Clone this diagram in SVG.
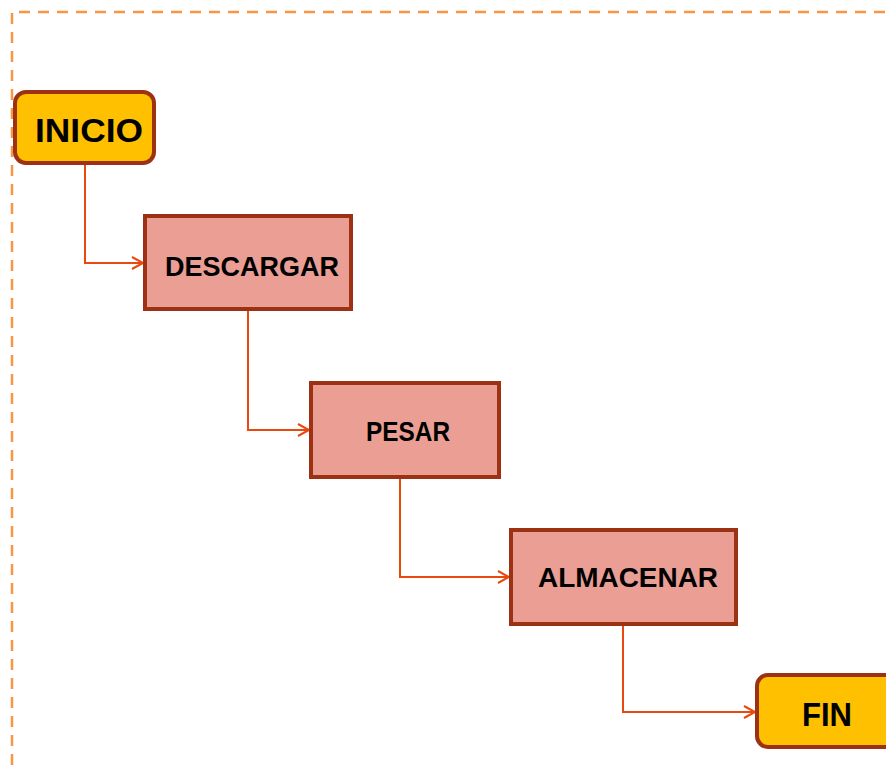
<svg xmlns="http://www.w3.org/2000/svg" width="886" height="765" viewBox="0 0 886 765">
<defs>
<style>
.frame{fill:none;stroke:#F79646;stroke-width:2.5;stroke-dasharray:11 8}
.term{fill:#FFC000;stroke:#9C3213;stroke-width:4}
.proc{fill:#EA9E94;stroke:#9C3213;stroke-width:4}
.conn{fill:none;stroke:#E8490F;stroke-width:2;marker-end:url(#arr)}
.lbl{font-family:"Liberation Sans",Arial,sans-serif;font-weight:bold;fill:#000;text-anchor:middle}
</style>
<marker id="arr" markerWidth="16" markerHeight="16" refX="12" refY="8" orient="auto" markerUnits="userSpaceOnUse">
<path d="M1,2 L12,8 L1,14" fill="none" stroke="#E8490F" stroke-width="2"/>
</marker>
</defs>
<rect width="886" height="765" fill="#fff"/>
<path class="frame" d="M12,765 L12,12 L886,12"/>
<g id="connectors">
<path class="conn" d="M85,164 L85,263 L143,263"/>
<path class="conn" d="M248,310 L248,430 L309,430"/>
<path class="conn" d="M400,478 L400,577 L509,577"/>
<path class="conn" d="M623,625 L623,712 L755,712"/>
</g>
<g id="inicio">
<rect class="term" x="15" y="92" width="139" height="71" rx="11"/>
<text class="lbl" x="89" y="142" font-size="34" textLength="108" lengthAdjust="spacingAndGlyphs">INICIO</text>
</g>
<g id="descargar">
<rect class="proc" x="145" y="216" width="206" height="93"/>
<text class="lbl" x="252" y="276" font-size="28" textLength="174" lengthAdjust="spacingAndGlyphs">DESCARGAR</text>
</g>
<g id="pesar">
<rect class="proc" x="311" y="383" width="188" height="94"/>
<text class="lbl" x="408" y="441" font-size="28" textLength="84" lengthAdjust="spacingAndGlyphs">PESAR</text>
</g>
<g id="almacenar">
<rect class="proc" x="511" y="530" width="225" height="94"/>
<text class="lbl" x="628" y="587" font-size="28" textLength="180" lengthAdjust="spacingAndGlyphs">ALMACENAR</text>
</g>
<g id="fin">
<rect class="term" x="757" y="675" width="145" height="72" rx="11"/>
<text class="lbl" x="827" y="726" font-size="34" textLength="50" lengthAdjust="spacingAndGlyphs">FIN</text>
</g>
</svg>
